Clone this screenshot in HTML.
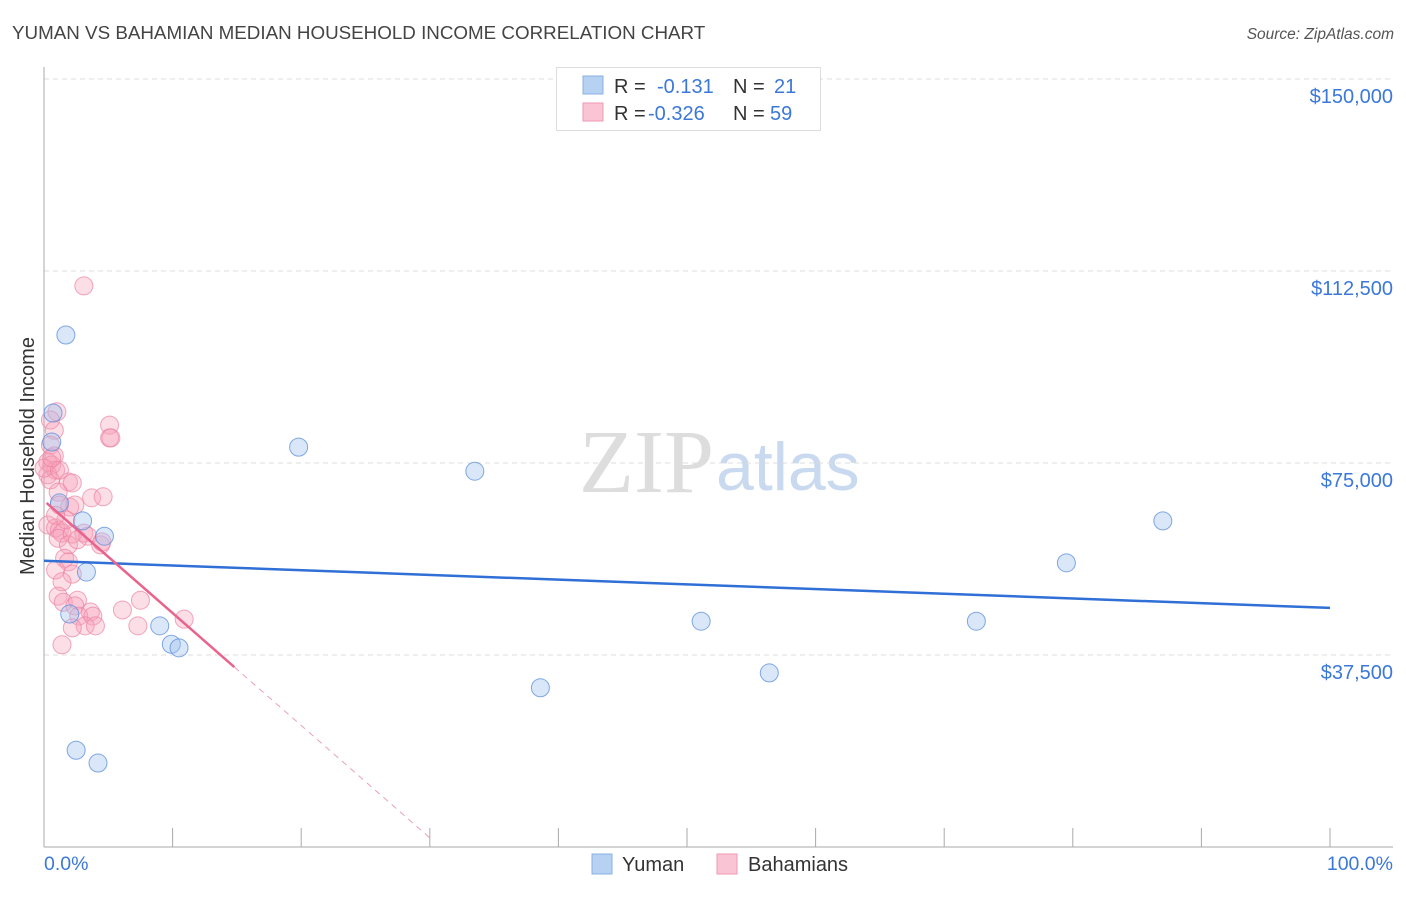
<!DOCTYPE html>
<html><head><meta charset="utf-8">
<style>
body{margin:0;background:#fff;font-family:"Liberation Sans",sans-serif;}
svg text{font-family:"Liberation Sans",sans-serif;}
</style></head>
<body>
<svg id="chart" width="1406" height="892" viewBox="0 0 1406 892">
  <text x="12" y="39" font-size="18.8" fill="#444">YUMAN VS BAHAMIAN MEDIAN HOUSEHOLD INCOME CORRELATION CHART</text>
  <text x="1394" y="39" font-size="15.5" fill="#555" font-style="italic" text-anchor="end">Source: ZipAtlas.com</text>
  <text x="714" y="492" font-size="90" fill="#ddd" text-anchor="end" style="font-family:'Liberation Serif',serif">ZIP</text>
  <text x="716" y="490" font-size="68" fill="#c9d9ef">atlas</text>
  <g id="grid"></g>
  <g id="axes"></g>
  <g id="marks"></g>
  <text transform="translate(34,456) rotate(-90)" font-size="20" fill="#333" text-anchor="middle">Median Household Income</text>
  <text x="44" y="870" font-size="19.5" fill="#3b78d8">0.0%</text>
  <text x="1393" y="870" font-size="19.5" fill="#3b78d8" text-anchor="end">100.0%</text>
  <g>
    <rect x="556.5" y="67.5" width="264" height="63" fill="#fff" stroke="#ddd"/>
    <rect x="583" y="76" width="20" height="18" fill="#b7d1f3" stroke="#8ab0e6"/>
    <rect x="583" y="103" width="20" height="18" fill="#f9c4d3" stroke="#ee9ab3"/>
    <text x="614" y="93" font-size="20" fill="#333">R =</text>
    <text x="657" y="93" font-size="20" fill="#3b78d8">-0.131</text>
    <text x="733" y="93" font-size="20" fill="#333">N =</text>
    <text x="774" y="93" font-size="20" fill="#3b78d8">21</text>
    <text x="614" y="120" font-size="20" fill="#333">R =</text>
    <text x="648" y="120" font-size="20" fill="#3b78d8">-0.326</text>
    <text x="733" y="120" font-size="20" fill="#333">N =</text>
    <text x="770" y="120" font-size="20" fill="#3b78d8">59</text>
  </g>
  <g>
    <rect x="592" y="854" width="20" height="20" fill="#b7d1f3" stroke="#8ab0e6"/>
    <text x="622" y="871" font-size="20" fill="#333">Yuman</text>
    <rect x="717" y="854" width="20" height="20" fill="#f9c4d3" stroke="#ee9ab3"/>
    <text x="748" y="871" font-size="20" fill="#333">Bahamians</text>
  </g>
</svg>
<script>
const yTicks=[37500,75000,112500,150000];
const yTickLabels=["$37,500","$75,000","$112,500","$150,000"];
const xTicks=[0,10,20,30,40,50,60,70,80,90,100];
const yumanX=[1.7,0.7,0.6,1.2,3.0,4.7,3.3,2.0,9.0,9.9,10.5,19.8,33.5,38.6,51.1,56.4,72.5,79.5,87.0,2.5,4.2];
const yumanY=[100000,84760,79100,67200,63700,60700,53700,45500,43200,39600,38900,78100,73400,31100,44100,34000,44100,55500,63700,18900,16400];
const bahX=[3.1,1.0,0.5,0.8,5.1,5.1,5.2,0.5,0.8,0.3,0.6,0.9,0.3,0.5,1.9,2.2,1.1,3.7,4.6,1.2,2.0,2.4,0.3,0.9,1.2,1.4,1.1,2.2,3.1,3.4,4.4,4.5,1.9,1.6,1.9,0.9,2.2,1.4,1.1,1.5,2.6,2.4,3.6,2.7,3.8,3.2,4.0,2.2,6.1,7.3,7.5,10.9,1.4,0,1.2,2.6,1.7,0.9,0.6];
const bahY=[109600,85000,83400,81400,82400,79900,79900,78500,76400,75200,74600,73600,72700,71700,71300,71100,69300,68200,68400,66800,66400,66800,62900,62300,61900,61300,60300,61100,61300,60700,59000,59600,59000,56400,55700,54100,53300,51800,49000,47800,48200,47100,45900,45100,45100,43200,43200,42800,46300,43200,48200,44500,39500,74000,73600,60000,63900,64800,76000];
const yumanTrend=[55900,46700];
const bahTrend=[67640,-2195];
const bahSolidEnd=14.8, bahDashEnd=30;

const NS="http://www.w3.org/2000/svg";
const X=v=>44+v*12.86;
const Y=v=>847-v/37500*192;
function mk(tag,attrs,parent){const e=document.createElementNS(NS,tag);for(const k in attrs)e.setAttribute(k,attrs[k]);parent.appendChild(e);return e;}
const grid=document.getElementById('grid'),axes=document.getElementById('axes'),marks=document.getElementById('marks');
yTicks.forEach((t,i)=>{
  const l=mk('line',{x1:44,x2:1393,y1:Y(t),y2:Y(t),stroke:'#ddd','stroke-dasharray':'5,4'},grid);
  
  
  const tx=mk('text',{x:1393,y:Y(t)+24,'font-size':20,fill:'#3b78d8','text-anchor':'end'},axes);
  tx.textContent=yTickLabels[i];
  
  
});
const ya=mk('line',{x1:44,x2:44,y1:67,y2:847,stroke:'#aaa'},axes);


const xa=mk('line',{x1:44,x2:1393,y1:847,y2:847,stroke:'#aaa'},axes);


xTicks.forEach(t=>{
  const l=mk('line',{x1:X(t),x2:X(t),y1:828,y2:847,stroke:'#aaa'},axes);
  
  
});
bahX.forEach((x,i)=>{
  const c=mk('circle',{cx:X(x),cy:Y(bahY[i]),r:9,fill:'rgba(246,160,185,0.35)',stroke:'rgba(236,130,160,0.7)','stroke-width':1},marks);
  
  
});
yumanX.forEach((x,i)=>{
  const c=mk('circle',{cx:X(x),cy:Y(yumanY[i]),r:9,fill:'rgba(160,195,240,0.4)',stroke:'rgba(90,140,220,0.75)','stroke-width':1},marks);
  
  
});
const bt=mk('line',{x1:X(0),y1:Y(yumanTrend[0]),x2:X(100),y2:Y(yumanTrend[1]),stroke:'#2f6fd6','stroke-width':2.5},marks);


const pb=v=>bahTrend[0]+bahTrend[1]*v;
const pt=mk('line',{x1:X(0.2),y1:Y(pb(0.2)),x2:X(bahSolidEnd),y2:Y(pb(bahSolidEnd)),stroke:'#e8648c','stroke-width':2.5},marks);


const pd=mk('line',{x1:X(bahSolidEnd),y1:Y(pb(bahSolidEnd)),x2:X(bahDashEnd),y2:Y(pb(bahDashEnd)),stroke:'#eaa0b5','stroke-width':1,'stroke-dasharray':'6,5'},marks);


</script>
</body></html>
